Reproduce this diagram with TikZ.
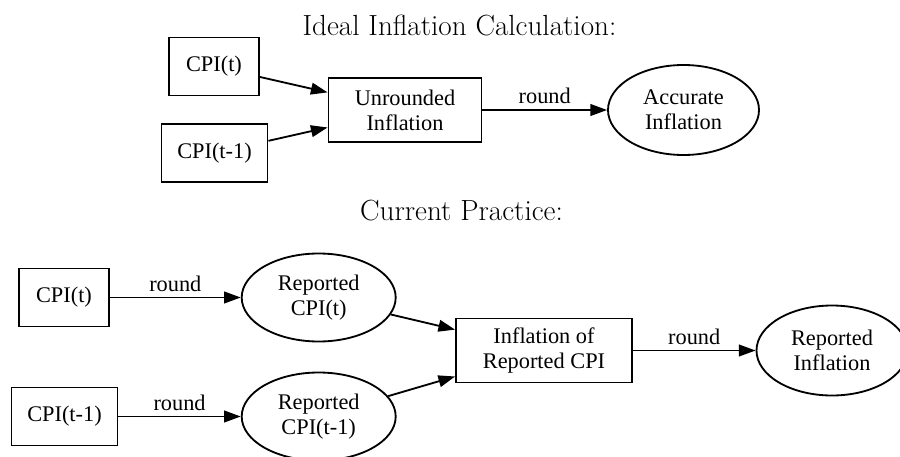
\documentclass[tikz,border=0pt]{standalone}
\usepackage{fontspec}
\newfontfamily\dotfont{Liberation Serif}
\usetikzlibrary{arrows.meta,shapes.geometric}
\tikzset{
  dotnode/.style={draw, line width=1.1bp, align=center, inner sep=0pt,
    font=\dotfont\fontsize{13.4bp}{15bp}\selectfont},
  box/.style={dotnode, rectangle},
  oval/.style={dotnode, ellipse},
  link/.style={line width=1.1bp, -{Triangle[length=10bp,width=7bp]}},
  lbl/.style={midway, above=3bp, inner sep=0pt,
    font=\dotfont\fontsize{13.4bp}{15bp}\selectfont},
  heading/.style={anchor=base, font=\fontsize{17.5bp}{21bp}\selectfont}
}
\begin{document}
\begin{tikzpicture}[x=0.6bp,y=-0.6bp]
  \clip (0,0) rectangle (900,457);
  % ideal calculation
  \node[heading] (idealtitle) at (459.5,35) {Ideal Inflation Calculation:};
  \node[box, minimum width=54bp, minimum height=34.8bp] (cpit) at (214,66.5) {CPI(t)};
  \node[box, minimum width=63.6bp, minimum height=34.8bp] (cpitm) at (214.5,153) {CPI(t-1)};
  \node[box, minimum width=91.8bp, minimum height=38.4bp] (unrounded) at (405,110) {Unrounded\\Inflation};
  \node[oval, minimum width=90.6bp, minimum height=54bp] (accurate) at (683.5,110) {Accurate\\Inflation};
  \draw[link] (cpit) -- (unrounded);
  \draw[link] (cpitm) -- (unrounded);
  \draw[link] (unrounded) -- node[lbl] {round} (accurate);
  % current practice
  \node[heading] (practicetitle) at (461.5,220) {Current Practice:};
  \node[box, minimum width=54bp, minimum height=34.8bp] (srcpit) at (64,297.5) {CPI(t)};
  \node[box, minimum width=63.6bp, minimum height=34.8bp] (srcpitm) at (64.5,416.5) {CPI(t-1)};
  \node[oval, minimum width=92.4bp, minimum height=52.8bp] (repcpit) at (318.7,297.5) {Reported\\CPI(t)};
  \node[oval, minimum width=92.4bp, minimum height=52.8bp] (repcpitm) at (318.7,416.5) {Reported\\CPI(t-1)};
  \node[box, minimum width=105.6bp, minimum height=38.4bp] (inflrep) at (544,350.5) {Inflation of\\Reported CPI};
  \node[oval, minimum width=90.6bp, minimum height=54bp] (repinfl) at (832,350.5) {Reported\\Inflation};
  \draw[link] (srcpit) -- node[lbl] {round} (repcpit);
  \draw[link] (srcpitm) -- node[lbl] {round} (repcpitm);
  \draw[link] (repcpit) -- (inflrep);
  \draw[link] (repcpitm) -- (inflrep);
  \draw[link] (inflrep) -- node[lbl] {round} (repinfl);
\end{tikzpicture}
\end{document}
